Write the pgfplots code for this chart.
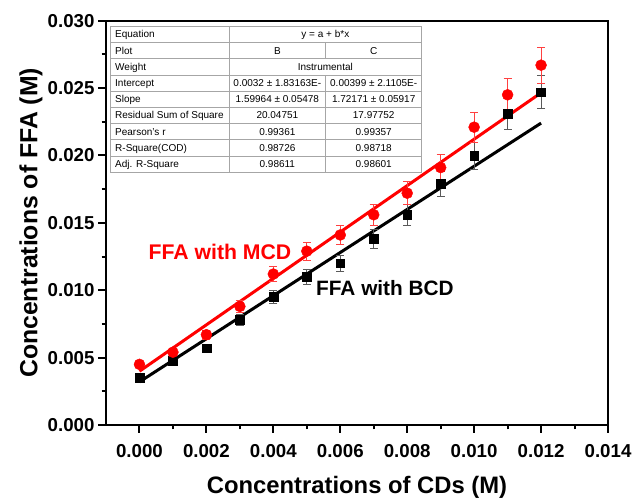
\documentclass[border=0pt]{standalone}
\usepackage{fontspec}
\setmainfont{Liberation Sans}
\usepackage{pgfplots}
\pgfplotsset{compat=1.18}
\definecolor{ored}{RGB}{255,0,0}
\begin{document}
\begin{tikzpicture}[x=1bp,y=1bp]
\begin{axis}[
  at={(106bp,75bp)}, anchor=south west,
  scale only axis, width=502bp, height=404.3bp,
  xmin=-0.001, xmax=0.014, ymin=0, ymax=0.030,
  xtick={0,0.002,0.004,0.006,0.008,0.010,0.012,0.014},
  ytick={0,0.005,0.010,0.015,0.020,0.025,0.030},
  minor tick num=1,
  scaled ticks=false,
  xticklabel style={/pgf/number format/.cd,fixed,fixed zerofill,precision=3,/tikz/.cd,yshift=-8bp},
  yticklabel style={/pgf/number format/.cd,fixed,fixed zerofill,precision=3},
  /pgf/number format/assume math mode=true,
  tick label style={font=\fontsize{18.7bp}{20bp}\selectfont\bfseries},
  tick align=outside,
  xtick pos=lower, ytick pos=lower,
  major tick length=8bp, minor tick length=4.5bp,
  every tick/.style={black, line width=2bp},
  axis line style={line width=2.3bp},
  xlabel={Concentrations of CDs (M)},
  ylabel={Concentrations of FFA (M)},
  xlabel style={at={(axis description cs:0.5,-0.1534)}, anchor=center, font=\fontsize{23.8bp}{26bp}\selectfont\bfseries},
  ylabel style={at={(axis description cs:-0.1494,0.5)}, anchor=center, font=\fontsize{24.8bp}{26bp}\selectfont\bfseries},
]
% fit lines
\addplot[black, line width=3bp, no marks] coordinates {(0,0.0032) (0.012,0.02240)};
\addplot[ored, line width=3bp, no marks] coordinates {(0,0.00399) (0.012,0.02465)};
% BCD data
\addplot[only marks, mark=square*, mark size=4.4bp, black,
  error bars/.cd, y dir=both, y explicit,
  error bar style={line width=0.7bp, color=black!65},
  error mark options={rotate=90, mark size=4bp, line width=0.7bp, color=black!65}]
  table[x=x, y=y, y error=e] {
x y e
0.000 0.0035 0.00018
0.001 0.0048 0.00024
0.002 0.0057 0.00029
0.003 0.0078 0.00039
0.004 0.0095 0.00048
0.005 0.0110 0.00055
0.006 0.0120 0.00060
0.007 0.0138 0.00069
0.008 0.0156 0.00078
0.009 0.0179 0.00090
0.010 0.0200 0.00100
0.011 0.0231 0.00116
0.012 0.0247 0.00124
};
% MCD data
\addplot[only marks, mark=*, mark size=5.5bp, ored,
  error bars/.cd, y dir=both, y explicit,
  error bar style={line width=0.7bp, color=ored!75},
  error mark options={rotate=90, mark size=4bp, line width=0.7bp, color=ored!75}]
  table[x=x, y=y, y error=e] {
x y e
0.000 0.0045 0.00023
0.001 0.0054 0.00027
0.002 0.0067 0.00034
0.003 0.0088 0.00044
0.004 0.0112 0.00056
0.005 0.0129 0.00065
0.006 0.0141 0.00070
0.007 0.0156 0.00078
0.008 0.0172 0.00086
0.009 0.0191 0.00096
0.010 0.0221 0.00110
0.011 0.0245 0.00123
0.012 0.0267 0.00134
};
\node[ored, font=\fontsize{21.2bp}{22bp}\selectfont\bfseries, anchor=center] at (axis cs:0.002405,0.01283) {FFA with MCD};
\node[black, font=\fontsize{20.8bp}{22bp}\selectfont\bfseries, anchor=center] at (axis cs:0.007335,0.01016) {FFA with BCD};
\end{axis}
% results table
\begin{scope}[line width=0.6bp, draw=black!35]
\fill[white] (110.7,327.9) rectangle (421.7,473.7);
\draw (110.7,327.9) rectangle (421.7,473.7);
\foreach \yy in {457.5,441.3,425.1,408.9,392.7,376.5,360.3,344.1} \draw (110.7,\yy) -- (421.7,\yy);
\draw (229,327.9) -- (229,473.7);
\draw (325.7,327.9) -- (325.7,425.1);
\draw (325.7,441.3) -- (325.7,457.5);
\end{scope}
\begin{scope}[every node/.style={font=\fontsize{10bp}{11bp}\selectfont, text height=7.2bp, text depth=0bp, inner sep=0pt}]
\node[anchor=west] at (115,465.6) {Equation};
\node[anchor=west] at (115,449.4) {Plot};
\node[anchor=west] at (115,433.2) {Weight};
\node[anchor=west] at (115,417.0) {Intercept};
\node[anchor=west] at (115,400.8) {Slope};
\node[anchor=west] at (115,384.6) {Residual Sum of Square};
\node[anchor=west] at (115,368.4) {Pearson's r};
\node[anchor=west] at (115,352.2) {R-Square(COD)};
\node[anchor=west] at (115,336.0) {Adj. R-Square};
\node at (325.35,465.6) {y = a + b*x};
\node at (277.35,449.4) {B};
\node at (373.7,449.4) {C};
\node at (325.35,433.2) {Instrumental};
\node at (277.35,417.0) {0.0032 ± 1.83163E-};
\node at (373.7,417.0) {0.00399 ± 2.1105E-};
\node at (277.35,400.8) {1.59964 ± 0.05478};
\node at (373.7,400.8) {1.72171 ± 0.05917};
\node at (277.35,384.6) {20.04751};
\node at (373.7,384.6) {17.97752};
\node at (277.35,368.4) {0.99361};
\node at (373.7,368.4) {0.99357};
\node at (277.35,352.2) {0.98726};
\node at (373.7,352.2) {0.98718};
\node at (277.35,336.0) {0.98611};
\node at (373.7,336.0) {0.98601};
\end{scope}
\pgfresetboundingbox
\useasboundingbox (0,0) rectangle (635,500);
\end{tikzpicture}
\end{document}
